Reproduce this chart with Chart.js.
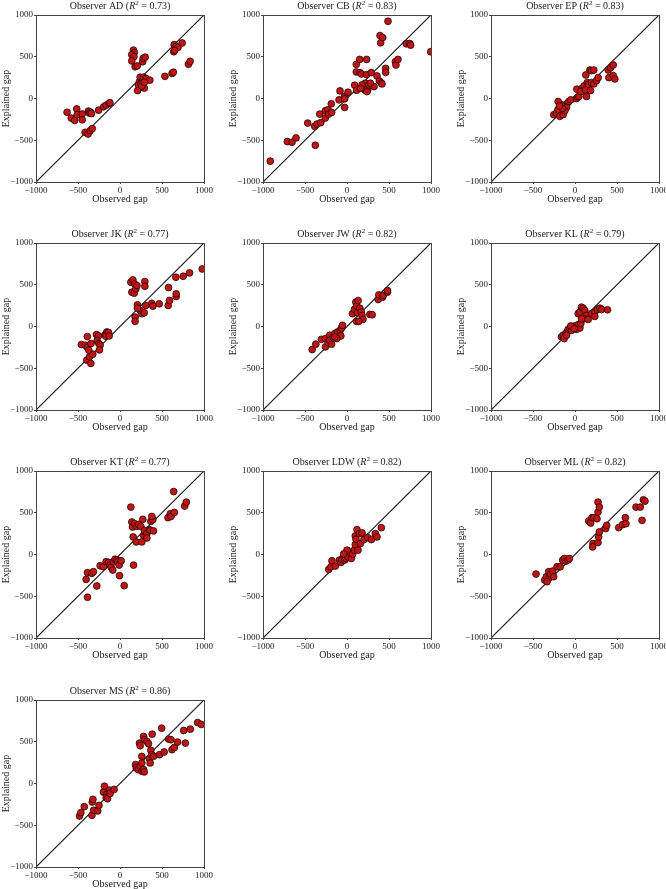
<!DOCTYPE html>
<html>
<head>
<meta charset="utf-8">
<script src="https://cdn.jsdelivr.net/npm/chart.js@4.4.1/dist/chart.umd.min.js"></script>
<style>
  body { margin: 0; background: #fff; }
  #wrap { position: relative; width: 666px; height: 889px; }
  #wrap canvas { position: absolute; }
</style>
</head>
<body>
<div id="wrap"></div>
<script>
// observers and their R^2
const observers = ['AD', 'CB', 'EP', 'JK', 'JW', 'KL', 'KT', 'LDW', 'ML', 'MS'];
const rSquared = [0.73, 0.83, 0.83, 0.77, 0.82, 0.79, 0.77, 0.82, 0.82, 0.86];
const tickValues = [-1000, -500, 0, 500, 1000];
const diagX = [-1000, 1000];
const diagY = [-1000, 1000];

// [observed gap, explained gap] per observer
const obsAD = [[-630,-165],[-580,-235],[-540,-262],[-515,-125],[-510,-195],[-450,-185],[-450,-255],[-375,-150],[-365,-175],[-350,-165],[-340,-180],[-255,-140],[-195,-100],[-165,-80],[-130,-60],[-120,-50],[-415,-405],[-380,-425],[-355,-385],[-330,-360],
  [160,580],[170,550],[140,525],[165,500],[140,450],[180,380],[205,390],[270,440],[275,480],[300,495],
  [230,200],[240,255],[270,215],[280,255],[310,240],[355,220],[220,160],[250,175],[270,135],[290,125],[210,95],[260,150],[290,195],
  [535,265],[620,300],[635,315],[640,560],[645,645],[670,625],[690,610],[740,665],[815,410],[835,445],[650,575]];
const obsCB = [[-913,-750],[-710,-516],[-655,-524],[-607,-472],[-468,-294],[-377,-560],[-385,-333],[-357,-306],[-313,-290],[-325,-187],
  [-258,-234],[-258,-147],[-226,-135],[-218,-187],[-183,-167],[-187,-64],[-95,-16],[-83,91],[-28,24],[-28,-4],[-28,-107],[12,75],
  [91,159],[115,99],[111,409],[111,318],[151,468],[155,310],[171,294],[234,468],[234,286],[290,310],[322,143],[357,270],[385,210],[409,186],[417,175],
  [198,143],[218,183],[230,123],[246,103],[258,163],[278,183],[210,103],[238,83],[179,163],[163,123],
  [393,754],[401,667],[425,730],[488,925],[460,361],[460,313],[576,440],[583,401],[607,468],[706,655],[746,659],[758,639],[996,560]];
const obsEP = [[-252,-194],[-220,-175],[-204,-135],[-181,-214],[-141,-194],[-133,-115],[-161,-75],[-201,-36],[-113,-87],[-90,-56],[-73,-36],[-50,-16],[-101,-107],[-121,-147],[-150,-120],[-185,-90],
  [18,0],[30,16],[46,24],[22,111],[85,123],[69,83],[109,151],[125,103],[137,24],[145,190],[161,171],[185,95],[196,190],[224,175],[256,214],[276,250],[129,282],[177,341],[196,333],[224,341],
  [395,341],[423,369],[455,401],[403,250],[455,274],[474,234]];
const obsJK = [[-460,-216],[-413,-224],[-389,-248],[-389,-121],[-345,-204],[-280,-97],[-256,-113],[-272,-169],[-252,-204],[-236,-224],[-244,-280],[-395,-403],[-363,-363],[-324,-331],[-347,-443],[-371,-284],
  [-177,-97],[-157,-66],[-137,-73],[-169,-117],[-129,-113],
  [129,530],[153,558],[173,510],[141,411],[169,399],[189,450],[202,490],[296,538],[296,482],
  [208,260],[240,193],[180,113],[180,62],[260,153],[288,165],[307,252],[379,276],[391,244],[467,272],[208,220],
  [574,252],[590,312],[578,466],[665,590],[669,359],[669,391],[753,602],[828,642],[979,689]];
const obsJW = [[-415,-276],[-371,-212],[-304,-153],[-256,-145],[-256,-244],[-226,-193],[-206,-105],[-206,-165],[-184,-212],[-165,-133],[-145,-85],[-113,-66],[-81,-46],[-65,-18],[-54,14],[-73,-113],[-121,-145],[-145,-125],
  [65,153],[89,204],[105,292],[113,244],[133,311],[125,165],[153,220],[171,173],[179,133],[190,85],[113,62],[141,62],
  [272,145],[300,141],[371,323],[379,379],[423,351],[431,371],[482,411],[482,430]];
const obsKL = [[-161,-125],[-141,-105],[-129,-145],[-109,-85],[-93,-66],[-81,-34],[-62,-18],[-42,-46],[-22,-6],[-2,6],[18,-34],[38,22],[58,-18],[69,34],
  [38,153],[58,173],[77,232],[97,220],[117,193],[137,133],[109,93],[77,93],[157,85],[196,153],[236,173],[236,121],[268,204],[296,220],[315,204],[387,200],
  [-101,-105],[-50,6],[-10,-26]];
const obsKT = [[-403,-298],[-387,-218],[-387,-512],[-336,-226],[-316,-206],[-276,-377],[-236,-135],[-197,-147],[-165,-87],[-137,-95],[-117,-127],[-105,-155],[-86,-187],[-78,-87],[-58,-56],[-38,-67],[-26,-87],[-10,-127],[-6,-254],[50,-373],[161,-127],[14,-75],
  [129,568],[141,389],[149,329],[157,210],[173,369],[201,337],[221,361],[193,151],[248,337],[272,421],[260,151],[280,230],[300,270],[292,290],[320,250],[320,198],[347,298],[359,290],[367,397],[391,417],[399,282],[379,456],
  [571,441],[599,488],[607,456],[647,504],[639,754],[770,580],[790,627]];
const obsLDW = [[-218,-179],[-191,-147],[-179,-75],[-139,-139],[-91,-67],[-71,-95],[-60,-60],[-36,-20],[-28,-67],[-12,-48],[0,4],[12,-28],[28,32],[52,-48],[67,4],[87,52],
  [99,119],[99,222],[107,183],[119,298],[147,250],[179,258],[159,131],[131,52],[202,179],[246,202],[290,179],[337,250],[357,210],[409,321],[0,52],[-40,8]];
const obsML = [[-464,-234],[-361,-306],[-341,-266],[-313,-206],[-306,-278],[-290,-238],[-266,-198],[-254,-266],[-214,-147],[-175,-147],[-147,-67],[-127,-48],[-107,-79],[-83,-67],[-67,-48],[-333,-326],
  [163,401],[187,377],[202,441],[222,441],[262,429],[274,508],[274,627],[290,568],[214,131],[210,91],[274,143],[282,210],[290,270],[365,310],[377,349],
  [520,322],[567,357],[599,441],[607,369],[726,568],[778,568],[798,409],[814,655],[833,639]];
const obsMS = [[-482,-389],[-466,-349],[-425,-278],[-330,-222],[-322,-190],[-334,-381],[-314,-321],[-266,-329],[-250,-262],[-197,-103],[-185,-32],[-157,-131],[-165,-171],[-149,-183],[-125,-79],[-117,-119],[-70,-71],
  [185,226],[193,187],[216,167],[240,206],[260,246],[260,147],[280,167],[288,139],[232,484],[240,452],[260,325],[280,563],[292,524],[320,504],[339,476],[383,591],[367,397],[351,294],[359,246],[379,345],[399,325],
  [496,663],[470,345],[526,377],[578,532],[607,524],[619,405],[647,432],[686,496],[758,635],[778,484],[837,651],[924,730],[968,707]];

const panels = [obsAD, obsCB, obsEP, obsJK, obsJW, obsKL, obsKT, obsLDW, obsML, obsMS];

const serif = '"Liberation Serif", "DejaVu Serif", serif';
const fmt = v => (v < 0 ? '\u2212' + Math.abs(v) : String(v));

// title with italic R and superscript 2, plus a full frame round the plot
const panelDecor = {
  id: 'panelDecor',
  afterDraw(chart, args, opts) {
    const { ctx, chartArea: a } = chart;
    ctx.save();
    ctx.strokeStyle = '#444';
    ctx.lineWidth = 1;
    ctx.strokeRect(Math.round(a.left) + 0.5, Math.round(a.top) + 0.5, Math.round(a.right - a.left), Math.round(a.bottom - a.top));
    const parts = [
      { t: 'Observer ' + opts.name + ' (', f: '10px ' + serif, dy: 0 },
      { t: 'R', f: 'italic 10px ' + serif, dy: 0 },
      { t: '2', f: '7px ' + serif, dy: -4 },
      { t: ' = ' + opts.r2.toFixed(2) + ')', f: '10px ' + serif, dy: 0 }
    ];
    let w = 0;
    parts.forEach(p => { ctx.font = p.f; p.w = ctx.measureText(p.t).width; w += p.w; });
    let x = (a.left + a.right) / 2 - w / 2;
    const y = a.top - 6;
    ctx.fillStyle = '#222';
    ctx.textBaseline = 'alphabetic';
    ctx.textAlign = 'left';
    parts.forEach(p => { ctx.font = p.f; ctx.fillText(p.t, x, y + p.dy); x += p.w; });
    ctx.restore();
  }
};

const colLeft = [0, 227, 455];
const rowTop = [0, 228, 456, 685];
const wrap = document.getElementById('wrap');

const axisOpts = (titleText, isX) => ({
  type: 'linear',
  min: -1000,
  max: 1000,
  position: isX ? 'bottom' : 'left',
  afterBuildTicks: s => { s.ticks = tickValues.map(v => ({ value: v })); },
  afterFit: s => { if (isX) s.height = 26; else s.width = 36; },
  ticks: {
    autoSkip: false,
    maxRotation: 0,
    padding: 1,
    color: '#222',
    font: { family: serif, size: 9 },
    callback: fmt
  },
  grid: { drawOnChartArea: false, tickLength: 2, color: '#444' },
  border: { color: '#444', width: 1 },
  title: {
    display: true,
    text: titleText,
    color: '#222',
    font: { family: serif, size: 10 },
    padding: isX ? { top: 0, bottom: 3 } : { top: 0, bottom: 0 }
  }
});

panels.forEach((pts, i) => {
  const c = document.createElement('canvas');
  c.width = 222;
  c.height = 228;
  c.style.left = colLeft[i % 3] + 'px';
  c.style.top = rowTop[Math.floor(i / 3)] + 'px';
  wrap.appendChild(c);

  new Chart(c.getContext('2d'), {
    type: 'scatter',
    data: {
      datasets: [
        {
          data: pts.map(p => ({ x: p[0], y: p[1] })),
          pointRadius: 3.4,
          backgroundColor: '#c01515',
          borderColor: '#2a0505',
          borderWidth: 0.8,
          order: 0
        },
        {
          data: diagX.map((x, k) => ({ x: x, y: diagY[k] })),
          showLine: true,
          pointRadius: 0,
          borderColor: '#1a1a1a',
          borderWidth: 1.2,
          order: 1
        }
      ]
    },
    options: {
      responsive: false,
      animation: false,
      devicePixelRatio: 1,
      layout: { padding: { top: 15, right: 18, bottom: 20, left: 0 } },
      plugins: {
        legend: { display: false },
        tooltip: { enabled: false },
        panelDecor: { name: observers[i], r2: rSquared[i] }
      },
      scales: {
        x: axisOpts('Observed gap', true),
        y: axisOpts('Explained gap', false)
      }
    },
    plugins: [panelDecor]
  });
});
</script>
</body>
</html>
